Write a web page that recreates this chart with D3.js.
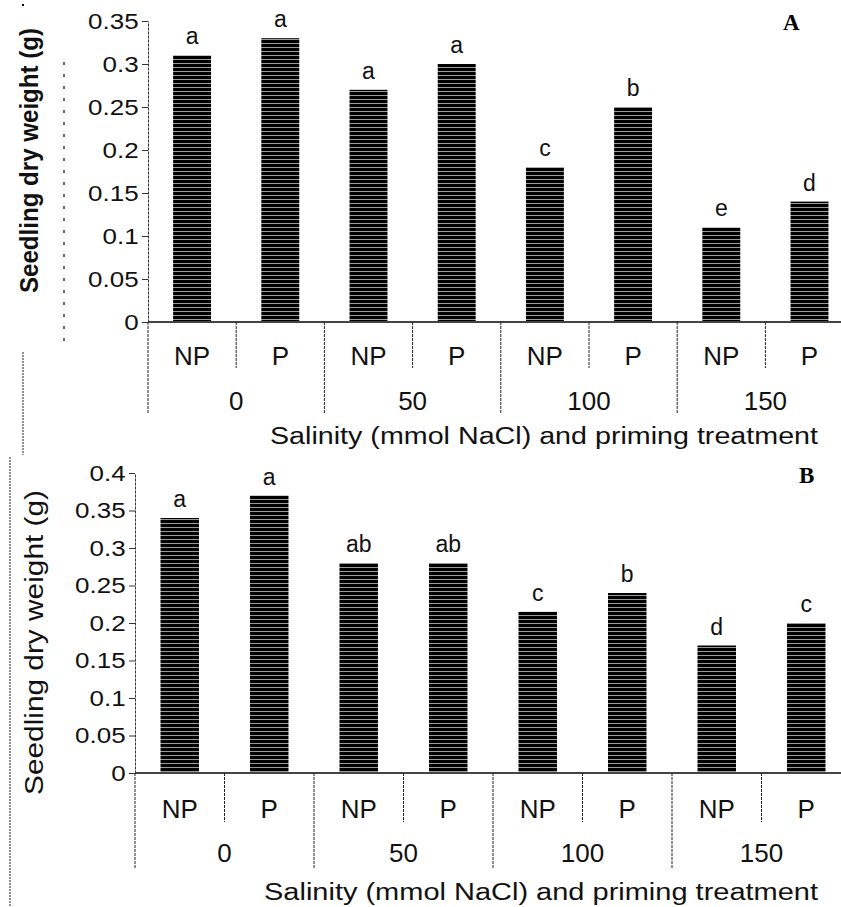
<!DOCTYPE html>
<html>
<head>
<meta charset="utf-8">
<script src="https://cdn.jsdelivr.net/npm/d3@7"></script>
<style>
  body { margin: 0; background: #fff; }
  svg { display: block; font-family: "Liberation Sans", Arial, sans-serif; }
</style>
</head>
<body>
<div id="chart"></div>
<script>
// categories
const salinity = ["0", "50", "100", "150"];
const priming = ["NP", "P"];
// seedling dry weight (g), order: 0NP, 0P, 50NP, 50P, 100NP, 100P, 150NP, 150P
const weightA = [0.31, 0.33, 0.27, 0.30, 0.18, 0.25, 0.11, 0.14];
const lettersA = ["a", "a", "a", "a", "c", "b", "e", "d"];
const weightB = [0.34, 0.37, 0.28, 0.28, 0.215, 0.24, 0.17, 0.20];
const lettersB = ["a", "a", "ab", "ab", "c", "b", "d", "c"];
const ticksA = [0, 0.05, 0.1, 0.15, 0.2, 0.25, 0.3, 0.35];
const ticksB = [0, 0.05, 0.1, 0.15, 0.2, 0.25, 0.3, 0.35, 0.4];

const W = 841, H = 907;
const svg = d3.select('#chart').append('svg')
    .attr('width', W)
    .attr('height', H);

// striped fill, like the scanned bars
const defs = svg.append('defs');
const pat = defs.append('pattern')
    .attr('id', 'stripes')
    .attr('patternUnits', 'userSpaceOnUse')
    .attr('width', 8)
    .attr('height', 4);
pat.append('rect').attr('width', 8).attr('height', 4).attr('fill', '#000');
pat.append('rect').attr('y', 3).attr('width', 8).attr('height', 1).attr('fill', '#9a9a9a');

const keys = [];
salinity.forEach(s => priming.forEach(p => keys.push(s + '|' + p)));

function drawPanel(cfg, values, letters, ticks, panelLabel) {
    const g = svg.append('g');
    const step = cfg.step;

    const x = d3.scaleBand()
        .domain(keys)
        .range([cfg.x0, cfg.x0 + step * keys.length])
        .paddingInner(0.57)
        .paddingOuter(0.285);

    const y = d3.scaleLinear()
        .domain([0, ticks[ticks.length - 1]])
        .range([cfg.y0, cfg.yTop]);

    // bars
    g.selectAll('rect.bar')
        .data(values)
        .join('rect')
        .attr('class', 'bar')
        .attr('x', (d, i) => x(keys[i]))
        .attr('width', x.bandwidth())
        .attr('y', d => y(d))
        .attr('height', d => y(0) - y(d))
        .attr('fill', 'url(#stripes)');

    // significance letters
    g.selectAll('text.sig')
        .data(values)
        .join('text')
        .attr('class', 'sig')
        .attr('x', (d, i) => x(keys[i]) + x.bandwidth() / 2)
        .attr('y', d => y(d) - 11)
        .attr('text-anchor', 'middle')
        .attr('font-size', 23)
        .attr('fill', '#111')
        .text((d, i) => letters[i]);

    // y axis
    const yAxis = g.append('g')
        .attr('transform', `translate(${cfg.x0},0)`)
        .call(d3.axisLeft(y)
            .tickValues(ticks)
            .tickSize(6)
            .tickSizeOuter(0)
            .tickFormat(d => String(+d.toFixed(2))));
    yAxis.select('.domain')
        .attr('stroke', '#333')
        .attr('stroke-dasharray', '3,1');
    yAxis.selectAll('.tick line').attr('stroke', '#333');
    yAxis.selectAll('.tick text')
        .attr('font-size', 22)
        .attr('fill', '#111')
        .attr('font-family', '"Liberation Sans", Arial, sans-serif')
        .attr('x', -8)
        .attr('transform', 'scale(1.18,1)');

    // x axis line
    g.append('line')
        .attr('x1', cfg.x0).attr('x2', W)
        .attr('y1', cfg.y0).attr('y2', cfg.y0)
        .attr('stroke', '#444')
        .attr('stroke-width', 2);

    // dividers: short between NP|P, long between salinity groups
    keys.forEach((k, i) => {
        const bx = x(k) - (step - x.bandwidth()) / 2;
        const long = i % 2 === 0;
        g.append('line')
            .attr('x1', bx).attr('x2', bx)
            .attr('y1', cfg.y0)
            .attr('y2', cfg.y0 + (long ? cfg.longDiv : cfg.shortDiv))
            .attr('stroke', '#222')
            .attr('stroke-dasharray', '3,1');
    });

    // NP / P labels
    g.selectAll('text.prim')
        .data(keys)
        .join('text')
        .attr('class', 'prim')
        .attr('x', k => x(k) + x.bandwidth() / 2)
        .attr('y', cfg.y0 + cfg.primDy)
        .attr('text-anchor', 'middle')
        .attr('font-size', 26)
        .attr('fill', '#111')
        .text(k => k.split('|')[1]);

    // salinity group labels
    g.selectAll('text.sal')
        .data(salinity)
        .join('text')
        .attr('class', 'sal')
        .attr('x', s => x(s + '|NP') - (step - x.bandwidth()) / 2 + step)
        .attr('y', cfg.y0 + cfg.salDy)
        .attr('text-anchor', 'middle')
        .attr('font-size', 26)
        .attr('fill', '#111')
        .text(s => s);

    // x title
    g.append('text')
        .attr('x', cfg.xtX)
        .attr('y', cfg.y0 + cfg.xtDy)
        .attr('font-size', 23)
        .attr('fill', '#111')
        .attr('textLength', cfg.xtLen)
        .attr('lengthAdjust', 'spacingAndGlyphs')
        .text('Salinity (mmol NaCl) and priming treatment');

    // y title
    g.append('text')
        .attr('transform', `translate(${cfg.ytX},${cfg.ytY}) rotate(-90)`)
        .attr('font-size', cfg.ytSize)
        .attr('font-weight', cfg.ytBold ? 'bold' : 'normal')
        .attr('fill', '#111')
        .attr('textLength', cfg.ytLen)
        .attr('lengthAdjust', 'spacingAndGlyphs')
        .text('Seedling dry weight (g)');

    // panel letter
    g.append('text')
        .attr('x', cfg.plX)
        .attr('y', cfg.plY)
        .attr('font-family', '"Liberation Serif", "Times New Roman", serif')
        .attr('font-weight', 'bold')
        .attr('font-size', 23)
        .attr('fill', '#000')
        .text(panelLabel);
}

drawPanel({
    x0: 148, step: 88.2, y0: 322, yTop: 21,
    shortDiv: 46, longDiv: 91, primDy: 43, salDy: 88,
    xtX: 270, xtDy: 122, xtLen: 548,
    ytX: 38, ytY: 293, ytLen: 265, ytSize: 26, ytBold: true,
    plX: 783, plY: 30
}, weightA, lettersA, ticksA, 'A');

drawPanel({
    x0: 135, step: 89.5, y0: 773, yTop: 473,
    shortDiv: 49, longDiv: 95, primDy: 45, salDy: 89,
    xtX: 264, xtDy: 127, xtLen: 554,
    ytX: 43, ytY: 795, ytLen: 305, ytSize: 25, ytBold: false,
    plX: 799, plY: 483
}, weightB, lettersB, ticksB, 'B');

// scan artefacts: dotted rules at the left edge
svg.append('line')
    .attr('x1', 23).attr('x2', 23).attr('y1', 352).attr('y2', 455)
    .attr('stroke', '#222').attr('stroke-dasharray', '2,1');
svg.append('line')
    .attr('x1', 10).attr('x2', 10).attr('y1', 457).attr('y2', H)
    .attr('stroke', '#222').attr('stroke-dasharray', '2,1');
svg.append('line')
    .attr('x1', 64).attr('x2', 64).attr('y1', 62).attr('y2', 345)
    .attr('stroke', '#666').attr('stroke-width', 2).attr('stroke-dasharray', '3,9');
svg.append('rect')
    .attr('x', 22).attr('y', 4).attr('width', 2).attr('height', 2).attr('fill', '#000');
</script>
</body>
</html>
